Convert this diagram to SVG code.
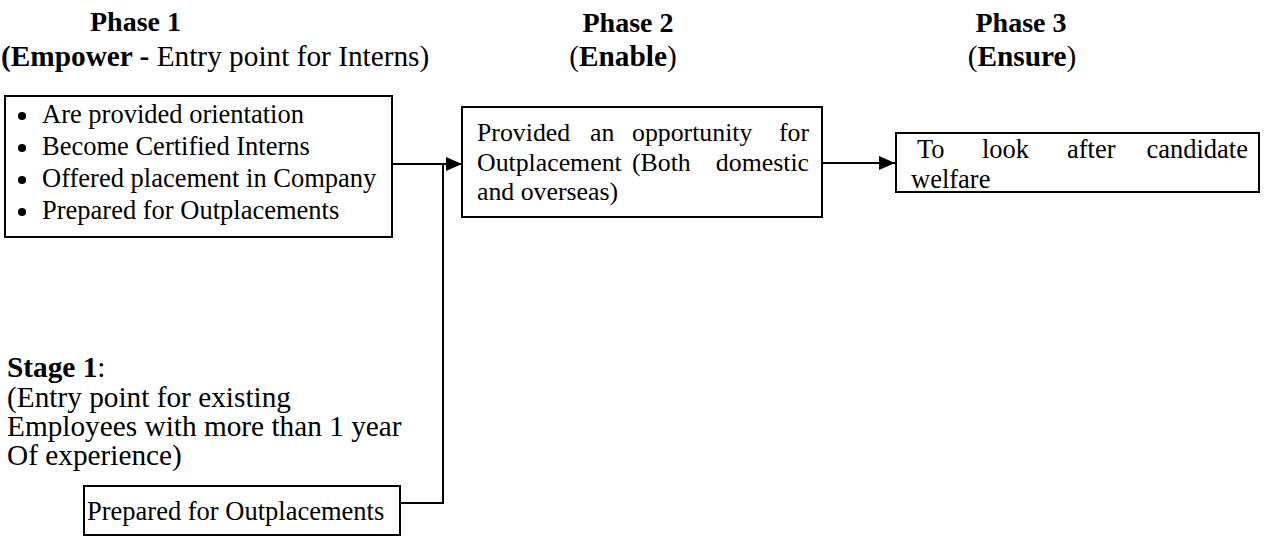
<svg xmlns="http://www.w3.org/2000/svg" width="1265" height="537" viewBox="0 0 1265 537">
  <defs>
    <style>
      .t { font-family: "Liberation Serif", "Times New Roman", serif; font-size: 26.5px; fill: #000; }
      .t2 { font-family: "Liberation Serif", "Times New Roman", serif; font-size: 29.3px; fill: #000; }
      .p2 { font-size: 25.8px; }
      .h { font-family: "Liberation Serif", "Times New Roman", serif; font-size: 28px; font-weight: bold; fill: #000; }
      .b { font-weight: bold; }
      .box { fill: #fff; stroke: #000; stroke-width: 2; }
      .conn { fill: none; stroke: #000; stroke-width: 2; }
    </style>
    <marker id="arrow" viewBox="0 0 16 14" refX="16" refY="7" markerWidth="16" markerHeight="14" markerUnits="userSpaceOnUse" orient="auto">
      <path d="M0,0 L16,7 L0,14 Z" fill="#000"/>
    </marker>
  </defs>
  <rect width="1265" height="537" fill="#fff"/>

  <g id="headers">
    <text class="h" x="135.5" y="31" text-anchor="middle">Phase 1</text>
    <text class="t2" x="1" y="66"><tspan class="b">(Empower - </tspan>Entry point for Interns)</text>
    <text class="h" x="628" y="32" text-anchor="middle">Phase 2</text>
    <text class="t2" x="623" y="66" text-anchor="middle">(<tspan class="b">Enable</tspan>)</text>
    <text class="h" x="1021" y="32" text-anchor="middle">Phase 3</text>
    <text class="t2" x="1022" y="66" text-anchor="middle">(<tspan class="b">Ensure</tspan>)</text>
  </g>

  <g id="connectors">
    <line class="conn" x1="392" y1="164" x2="462" y2="164" marker-end="url(#arrow)"/>
    <polyline class="conn" points="400,503 443,503 443,164"/>
    <line class="conn" x1="822" y1="163" x2="895" y2="163" marker-end="url(#arrow)"/>
  </g>

  <g id="phase1">
    <rect class="box" x="5" y="96" width="387" height="141"/>
    <circle cx="22" cy="116" r="4"/>
    <circle cx="22" cy="148" r="4"/>
    <circle cx="22" cy="180" r="4"/>
    <circle cx="22" cy="212" r="4"/>
    <text class="t" x="42" y="123">Are provided orientation</text>
    <text class="t" x="42" y="155">Become Certified Interns</text>
    <text class="t" x="42" y="187">Offered placement in Company</text>
    <text class="t" x="42" y="219">Prepared for Outplacements</text>
  </g>

  <g id="phase2">
    <rect class="box" x="462" y="107" width="360" height="110"/>
    <text class="t p2" y="141"><tspan x="477">Provided</tspan><tspan x="590">an</tspan><tspan x="632">opportunity</tspan><tspan x="809" text-anchor="end">for</tspan></text>
    <text class="t p2" y="171"><tspan x="477">Outplacement</tspan><tspan x="632">(Both</tspan><tspan x="809" text-anchor="end">domestic</tspan></text>
    <text class="t p2" x="477" y="200">and overseas)</text>
  </g>

  <g id="phase3">
    <rect class="box" x="896" y="133" width="363" height="59"/>
    <text class="t" y="158"><tspan x="917">To</tspan><tspan x="982">look</tspan><tspan x="1067">after</tspan><tspan x="1248" text-anchor="end">candidate</tspan></text>
    <text class="t" x="911" y="188">welfare</text>
  </g>

  <g id="stage1">
    <text class="t2" x="7" y="377"><tspan class="b">Stage 1</tspan>:</text>
    <text class="t2" x="7" y="407">(Entry point for existing</text>
    <text class="t2" x="7" y="436">Employees with more than 1 year</text>
    <text class="t2" x="7" y="465">Of experience)</text>
  </g>

  <g id="stage1-box">
    <rect class="box" x="84" y="486" width="316" height="49"/>
    <text class="t" x="87" y="520">Prepared for Outplacements</text>
  </g>
</svg>
